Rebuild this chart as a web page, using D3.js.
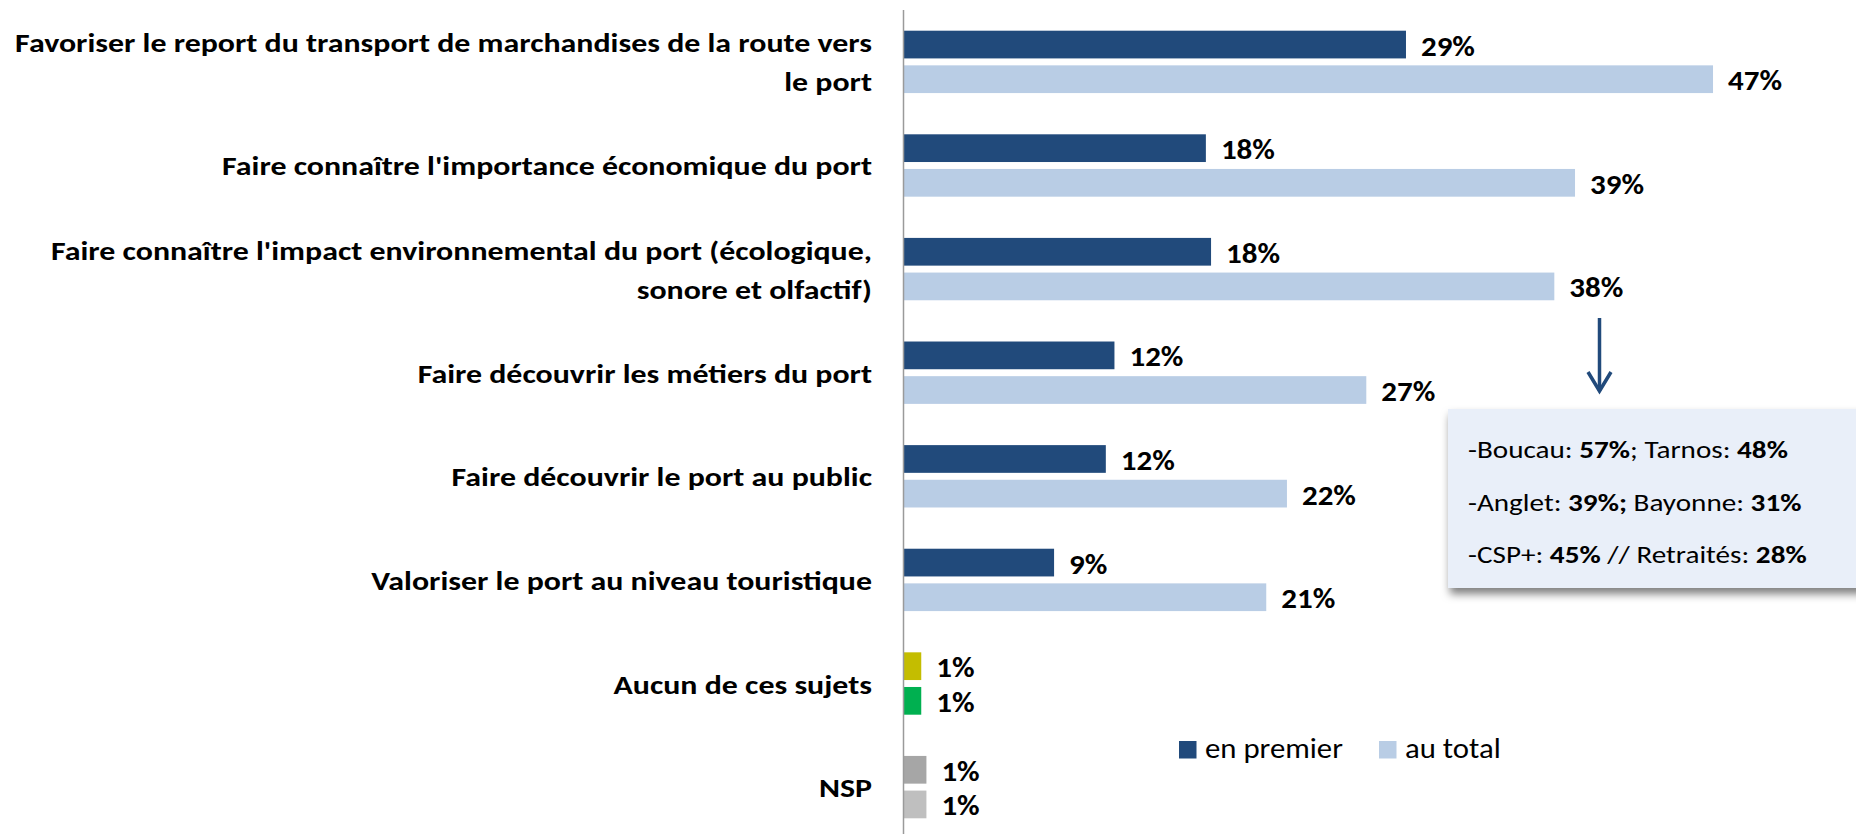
<!DOCTYPE html>
<html>
<head>
<meta charset="utf-8">
<script src="https://cdn.jsdelivr.net/npm/d3@7"></script>
<style>
  html, body { margin: 0; padding: 0; background: #ffffff; }
  svg { display: block; }
  text { font-family: Carlito, Calibri, Lato, "Open Sans", sans-serif; }
</style>
</head>
<body>
<svg id="chart" width="1856" height="834"></svg>
<script>
// ---- data ----
const categories = [
  "Favoriser le report du transport de marchandises de la route vers\nle port",
  "Faire connaître l'importance économique du port",
  "Faire connaître l'impact environnemental du port (écologique,\nsonore et olfactif)",
  "Faire découvrir les métiers du port",
  "Faire découvrir le port au public",
  "Valoriser le port au niveau touristique",
  "Aucun de ces sujets",
  "NSP"
];
const seriesNames = ["en premier", "au total"];
const enPremier = [29.1, 17.5, 17.8, 12.2, 11.7, 8.7, 1.0, 1.3];
const auTotal   = [46.9, 38.9, 37.7, 26.8, 22.2, 21.0, 1.0, 1.3];
const noteLines = [
  [["-Boucau: ", false], ["57%", true], ["; Tarnos: ", false], ["48%", true]],
  [["-Anglet: ", false], ["39%;", true], [" Bayonne: ", false], ["31%", true]],
  [["-CSP+: ", false], ["45%", true], [" // Retraités: ", false], ["28%", true]]
];

// ---- styles ----
const DARK = "#214a7b", LIGHT = "#b9cde5";
const pairColors = [
  [DARK, LIGHT], [DARK, LIGHT], [DARK, LIGHT], [DARK, LIGHT],
  [DARK, LIGHT], [DARK, LIGHT], ["#c4bd00", "#00b050"], ["#a6a6a6", "#bfbfbf"]
];

const svg = d3.select("#chart");
const axisX = 904;

// horizontal stretch helper: place text at (X,Y) and scale its width by k
function place(sel, X, Y, k) { sel.attr("x", 0).attr("y", 0).attr("transform", `translate(${X},${Y}) scale(${k},1)`); }
function naturalWidth(txt, size, weight) {
  const t = svg.append("text").attr("font-size", size).attr("font-weight", weight).text(txt);
  const w = t.node().getComputedTextLength(); t.remove(); return w;
}

const x = d3.scaleLinear().domain([0, 50]).range([axisX, axisX + 50 * 17.25]);
const y0 = d3.scaleBand().domain(d3.range(categories.length))
  .range([30.7, 818.3]).paddingInner(0.398).paddingOuter(0);
const y1 = d3.scaleBand().domain([0, 1]).range([0, y0.bandwidth()]).paddingInner(0.2);

const rows = categories.map((c, i) => ({ i, c, vals: [enPremier[i], auTotal[i]] }));

// stretch factors fitted to the reference widths
const kVal = 54 / naturalWidth("47%", 28, "bold");
const kLab = 857 / naturalWidth(categories[0].split("\n")[0], 27, "bold");

// bars
const g = svg.append("g");
rows.forEach(r => {
  r.vals.forEach((v, s) => {
    const yy = y0(r.i) + y1(s);
    g.append("rect")
      .attr("x", x(0)).attr("y", yy)
      .attr("width", x(v) - x(0)).attr("height", y1.bandwidth())
      .attr("fill", pairColors[r.i][s]);
    const t = g.append("text")
      .attr("font-size", 28).attr("font-weight", "bold").attr("fill", "#000")
      .text(Math.round(v) + "%");
    place(t, x(v) + 15, yy + y1.bandwidth() / 2 + 11, kVal);
  });
});

// axis line
svg.append("line").attr("x1", axisX - 0.5).attr("x2", axisX - 0.5)
  .attr("y1", 10).attr("y2", 834).attr("stroke", "#9a9a9a").attr("stroke-width", 1.5);

// category labels
const labelG = svg.append("g");
const lineH = 39;
rows.forEach(r => {
  const lines = r.c.split("\n");
  const cy = y0(r.i) + y0.bandwidth() / 2;
  lines.forEach((ln, k) => {
    const t = labelG.append("text")
      .attr("text-anchor", "end").attr("font-size", 27).attr("font-weight", "bold").attr("fill", "#000")
      .text(ln);
    place(t, 872, cy + 10 + (k - (lines.length - 1) / 2) * lineH, kLab);
  });
});

// annotation box with shadow
const defs = svg.append("defs");
const f = defs.append("filter").attr("id", "shadow").attr("x", "-10%").attr("y", "-10%").attr("width", "130%").attr("height", "140%");
f.append("feDropShadow").attr("dx", 2).attr("dy", 6).attr("stdDeviation", 4)
  .attr("flood-color", "#000").attr("flood-opacity", 0.5);
svg.append("rect").attr("x", 1448).attr("y", 409).attr("width", 430).attr("height", 179)
  .attr("fill", "#e9eff9").attr("filter", "url(#shadow)");
const nt = svg.append("g");
const noteTexts = noteLines.map((parts, k) => {
  const t = nt.append("text").attr("font-size", 24).attr("fill", "#000");
  parts.forEach(([s, b]) => t.append("tspan").attr("font-weight", b ? "bold" : "normal").text(s));
  return t;
});
const kNote = 320 / noteTexts[0].node().getComputedTextLength();
noteTexts.forEach((t, k) => place(t, 1468, 458 + k * 52.5, kNote));

// arrow
svg.append("line").attr("x1", 1599.5).attr("x2", 1599.5).attr("y1", 318).attr("y2", 391)
  .attr("stroke", DARK).attr("stroke-width", 3.5);
svg.append("path").attr("d", "M1588,372 L1599.5,391 L1611,372")
  .attr("fill", "none").attr("stroke", DARK).attr("stroke-width", 3.5).attr("stroke-linejoin", "miter");

// legend
const kLeg = 138 / naturalWidth(seriesNames[0], 28, "normal");
const legX = [1179, 1379];
seriesNames.forEach((n, s) => {
  svg.append("rect").attr("x", legX[s]).attr("y", 741).attr("width", 17.5).attr("height", 17.5)
    .attr("fill", [DARK, LIGHT][s]);
  const t = svg.append("text").attr("font-size", 28).attr("fill", "#000").text(n);
  place(t, legX[s] + 26, 758, kLeg);
});
</script>
</body>
</html>
